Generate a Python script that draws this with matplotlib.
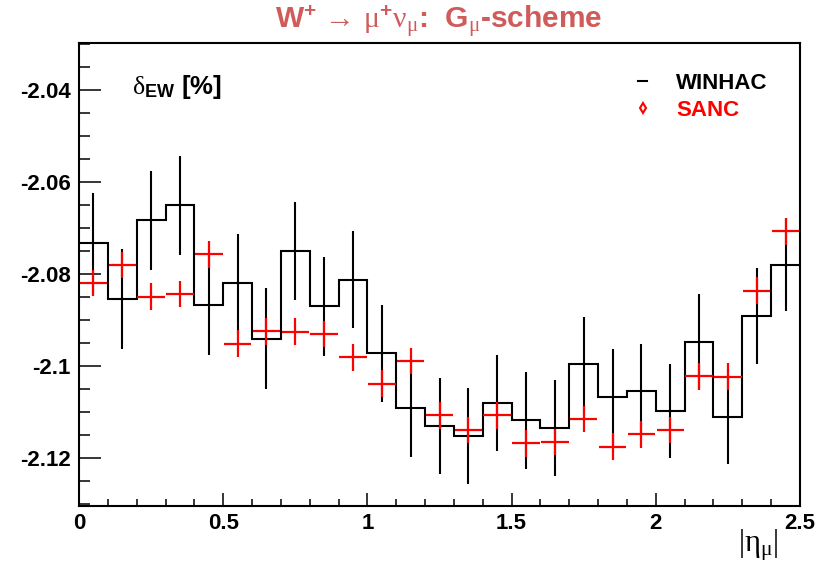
import numpy as np
import matplotlib
matplotlib.use("Agg")
import matplotlib.pyplot as plt
from matplotlib.lines import Line2D
from matplotlib.ticker import MultipleLocator

plt.rcParams["font.family"] = ["Liberation Sans", "DejaVu Sans"]
plt.rcParams["mathtext.fontset"] = "custom"
plt.rcParams["mathtext.rm"] = "Liberation Sans:bold"
plt.rcParams["mathtext.bf"] = "Liberation Sans:bold"
plt.rcParams["mathtext.it"] = "Liberation Serif"
plt.rcParams["mathtext.sf"] = "Liberation Serif"

# |eta_mu| bins
eta_edges = [0.0, 0.1, 0.2, 0.3, 0.4, 0.5, 0.6, 0.7, 0.8, 0.9, 1.0, 1.1, 1.2,
             1.3, 1.4, 1.5, 1.6, 1.7, 1.8, 1.9, 2.0, 2.1, 2.2, 2.3, 2.4, 2.5]

# WINHAC delta_EW [%] per bin and its error
winhac = [-2.0733, -2.0854, -2.0683, -2.0650, -2.0866, -2.0820, -2.0940,
          -2.0750, -2.0870, -2.0812, -2.0972, -2.1091, -2.1130, -2.1152,
          -2.1080, -2.1118, -2.1135, -2.0996, -2.1067, -2.1054, -2.1097,
          -2.0947, -2.1110, -2.0891, -2.0779]
winhac_err = [0.0110, 0.0109, 0.0108, 0.0108, 0.0110, 0.0107, 0.0109, 0.0107,
              0.0108, 0.0106, 0.0106, 0.0106, 0.0105, 0.0105, 0.0105, 0.0105,
              0.0104, 0.0103, 0.0104, 0.0102, 0.0102, 0.0104, 0.0103, 0.0104,
              0.0102]

# SANC delta_EW [%] per bin and its error
sanc = [-2.0819, -2.0780, -2.0849, -2.0843, -2.0757, -2.0951, -2.0924,
        -2.0925, -2.0930, -2.0981, -2.1038, -2.0989, -2.1107, -2.1139,
        -2.1107, -2.1168, -2.1165, -2.1115, -2.1175, -2.1148, -2.1139,
        -2.1022, -2.1023, -2.0836, -2.0707]
sanc_err = [0.0029] * 25

edges = np.array(eta_edges)
centers = 0.5 * (edges[:-1] + edges[1:])
half_w = 0.5 * np.diff(edges)

title_color = "#cf5b5b"

fig = plt.figure(figsize=(8.25, 5.66), dpi=100)
ax = fig.add_axes([0.0958, 0.106, 0.8739, 0.8175])

ax.stairs(winhac, edges, color="black", lw=1.5, baseline=None)
ax.errorbar(centers, winhac, yerr=winhac_err, fmt="none", ecolor="black",
            elinewidth=1.5, capsize=0)
ax.errorbar(centers, sanc, xerr=half_w * 0.95, yerr=sanc_err, fmt="none",
            ecolor="red", elinewidth=1.6, capsize=0)

ax.set_xlim(0, 2.5)
ax.set_ylim(-2.1304, -2.0298)

ax.xaxis.set_major_locator(MultipleLocator(0.5))
ax.xaxis.set_minor_locator(MultipleLocator(0.1))
ax.yaxis.set_major_locator(MultipleLocator(0.02))
ax.yaxis.set_minor_locator(MultipleLocator(0.005))
ax.set_xticks([0, 0.5, 1, 1.5, 2, 2.5], ["0", "0.5", "1", "1.5", "2", "2.5"])
ax.set_yticks([-2.12, -2.1, -2.08, -2.06, -2.04],
              ["-2.12", "-2.1", "-2.08", "-2.06", "-2.04"])

ax.tick_params(axis="both", which="both", direction="in", top=False,
               right=False, width=1.1, labelsize=16)
ax.tick_params(axis="x", which="major", length=9.5, pad=5)
ax.tick_params(axis="x", which="minor", length=4.7)
ax.tick_params(axis="y", which="major", length=16, pad=6)
ax.tick_params(axis="y", which="minor", length=8)
for lab in ax.get_xticklabels() + ax.get_yticklabels():
    lab.set_fontweight("bold")
for sp in ax.spines.values():
    sp.set_linewidth(1.5)

fig.text(0.532, 0.962,
         r"$\mathbf{W}^{+}\,\mathsf{\rightarrow}\,\mathsf{\mu}^{+}\mathsf{\nu}_{\mathsf{\mu}}$:  G$_{\mathsf{\mu}}$-scheme",
         ha="center", va="center", fontsize=21.5, fontweight="bold",
         color=title_color)

ax.text(0.073, 0.905, r"$\mathsf{\delta}_{\mathbf{EW}}$ [%]",
        transform=ax.transAxes, fontsize=18.5, fontweight="bold",
        ha="left", va="center")

ax.text(0.97, -0.085, r"$\mathsf{|\eta}_{\mathsf{\mu}}\mathsf{|}$",
        transform=ax.transAxes, fontsize=22, ha="right", va="center")

handles = [Line2D([], [], color="black", lw=1.5),
           Line2D([], [], color="red", marker="d", mfc="none", mec="red",
                  ls="none", ms=5, mew=1.5)]
leg = ax.legend(handles, ["WINHAC", "SANC"], loc="upper left",
                bbox_to_anchor=(0.748, 0.98), frameon=False,
                prop={"weight": "bold", "size": 16}, handlelength=0.4,
                handletextpad=1.3, labelspacing=0.3,
                labelcolor=["black", "red"])

fig.savefig("out.png", dpi=100)
